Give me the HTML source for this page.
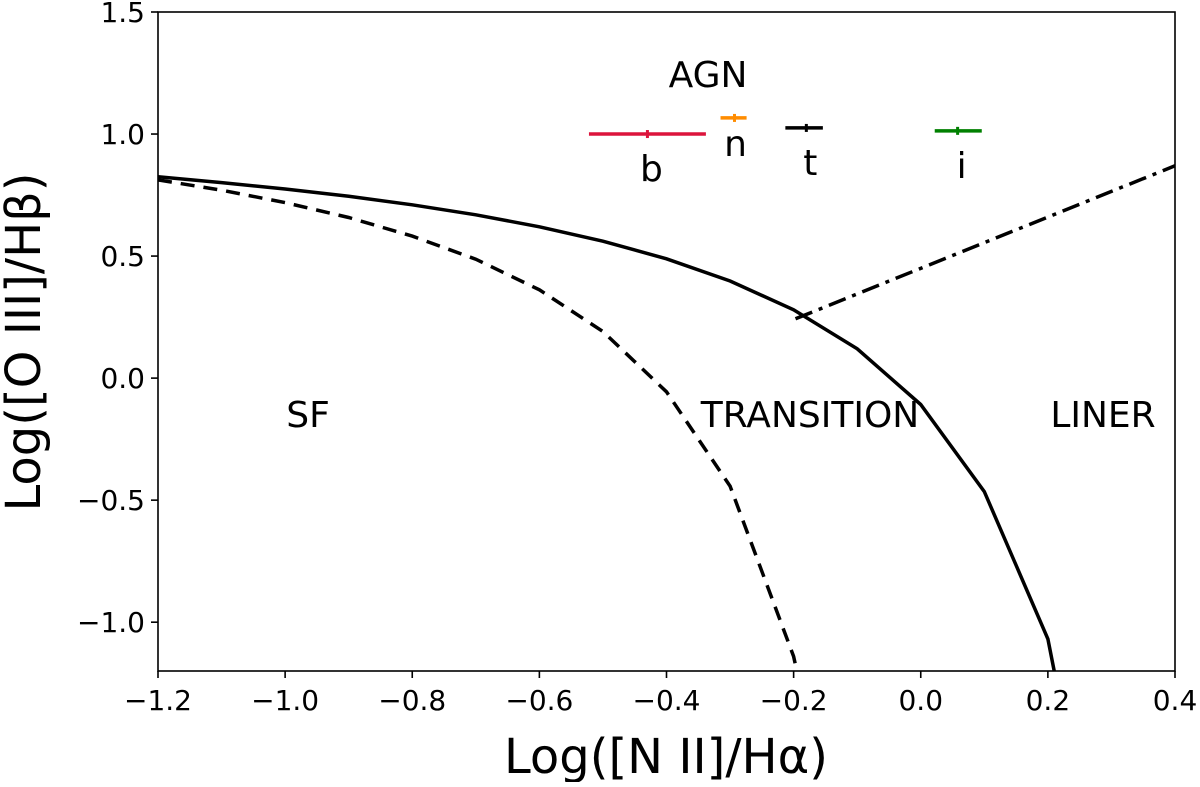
<!DOCTYPE html>
<html><head><meta charset="utf-8"><style>
body{margin:0;background:#fff}
svg{font-family:"DejaVu Sans","Liberation Sans",sans-serif}
</style></head><body>
<svg id="chart" width="1200" height="782"></svg>
<script>
const xTicks=[-1.2,-1.0,-0.8,-0.6,-0.4,-0.2,0.0,0.2,0.4];
const xTickLabels=["\u22121.2","\u22121.0","\u22120.8","\u22120.6","\u22120.4","\u22120.2","0.0","0.2","0.4"];
const yTicks=[-1.0,-0.5,0.0,0.5,1.0,1.5];
const yTickLabels=["\u22121.0","\u22120.5","0.0","0.5","1.0","1.5"];
const kewleyX=[-1.2,-1.1,-1.0,-0.9,-0.8,-0.7,-0.6,-0.5,-0.4,-0.3,-0.2,-0.1,0.0,0.1,0.2,0.21];
const kewleyY=[0.825,0.801,0.775,0.745,0.710,0.669,0.620,0.561,0.489,0.398,0.280,0.120,-0.108,-0.465,-1.069,-1.2];
const kauffX=[-1.2,-1.1,-1.0,-0.9,-0.8,-0.7,-0.6,-0.5,-0.4,-0.3,-0.2,-0.195];
const kauffY=[0.812,0.770,0.719,0.658,0.582,0.487,0.362,0.191,-0.056,-0.443,-1.14,-1.2];
const linerX=[-0.197,0.4];
const linerY=[0.243,0.87];
const ptNames=["b","n","t","i"];
const ptX=[-0.43,-0.293,-0.18,0.058];
const ptY=[1.0,1.066,1.025,1.013];
const ptXLo=[-0.522,-0.315,-0.213,0.022];
const ptXHi=[-0.338,-0.274,-0.154,0.096];
const ptColors=["#dc143c","#ff8c00","#000000","#008000"];

const L=158,R=1175,T=12,B=671,X0=-1.2,X1=0.4,Y0=-1.2,Y1=1.5;
const sx=v=>L+(v-X0)/(X1-X0)*(R-L);
const sy=v=>B-(v-Y0)/(Y1-Y0)*(B-T);
const svg=document.getElementById('chart');
const NS="http://www.w3.org/2000/svg";
function mk(tag,attrs,parent){const e=document.createElementNS(NS,tag);for(const k in attrs)e.setAttribute(k,attrs[k]);(parent||svg).appendChild(e);return e;}
function txt(s,x,y,size,anchor,name){const e=mk('text',{x:x,y:y,'font-size':size,'text-anchor':anchor||'middle',fill:'#000'});e.textContent=s;


return e;}
function line(xs,ys,dash,name){const d=xs.map((v,i)=>(i?'L':'M')+sx(v).toFixed(1)+','+sy(ys[i]).toFixed(1)).join(' ');
const p=mk('path',{d:d,fill:'none',stroke:'#000','stroke-width':3.5,'stroke-dasharray':dash||'none'});

}
line(kewleyX,kewleyY,null,'kewley-line');
line(kauffX,kauffY,'14,9','kauffmann-line');
line(linerX,linerY,'18,7,4,7','liner-line');
ptNames.forEach((n,i)=>{
 const g=mk('g',{});
 
 
 mk('line',{x1:sx(ptXLo[i]),x2:sx(ptXHi[i]),y1:sy(ptY[i]),y2:sy(ptY[i]),stroke:ptColors[i],'stroke-width':3.5},g);
 mk('line',{x1:sx(ptX[i]),x2:sx(ptX[i]),y1:sy(ptY[i])-4,y2:sy(ptY[i])+4,stroke:ptColors[i],'stroke-width':3},g);
 txt(n,sx(ptX[i])+(i==1?1:4),sy(ptY[i])+(i==1?38:47),36,'middle','label-'+n);
});
txt('AGN',708,87,36,'middle','region-agn');
txt('SF',308,427,36,'middle','region-sf');
txt('TRANSITION',810,427,36,'middle','region-transition');
txt('LINER',1103,427,36,'middle','region-liner');
const fr=mk('rect',{x:L,y:T,width:R-L,height:B-T,fill:'none',stroke:'#000','stroke-width':1.6});


xTicks.forEach((v,i)=>{mk('line',{x1:sx(v),x2:sx(v),y1:B,y2:B+7,stroke:'#000','stroke-width':1.6});txt(xTickLabels[i],sx(v),B+39,28,'middle','x-tick-label');});
yTicks.forEach((v,i)=>{mk('line',{x1:L-7,x2:L,y1:sy(v),y2:sy(v),stroke:'#000','stroke-width':1.6});txt(yTickLabels[i],L-13,sy(v)+10,28,'end','y-tick-label');});
txt('Log([N II]/H\u03b1)',666,773,48,'middle','x-axis-title');
const yt=txt('Log([O III]/H\u03b2)',0,0,48,'middle','y-axis-title');
yt.setAttribute('transform','translate(40,342) rotate(-90)');
</script>
</body></html>
